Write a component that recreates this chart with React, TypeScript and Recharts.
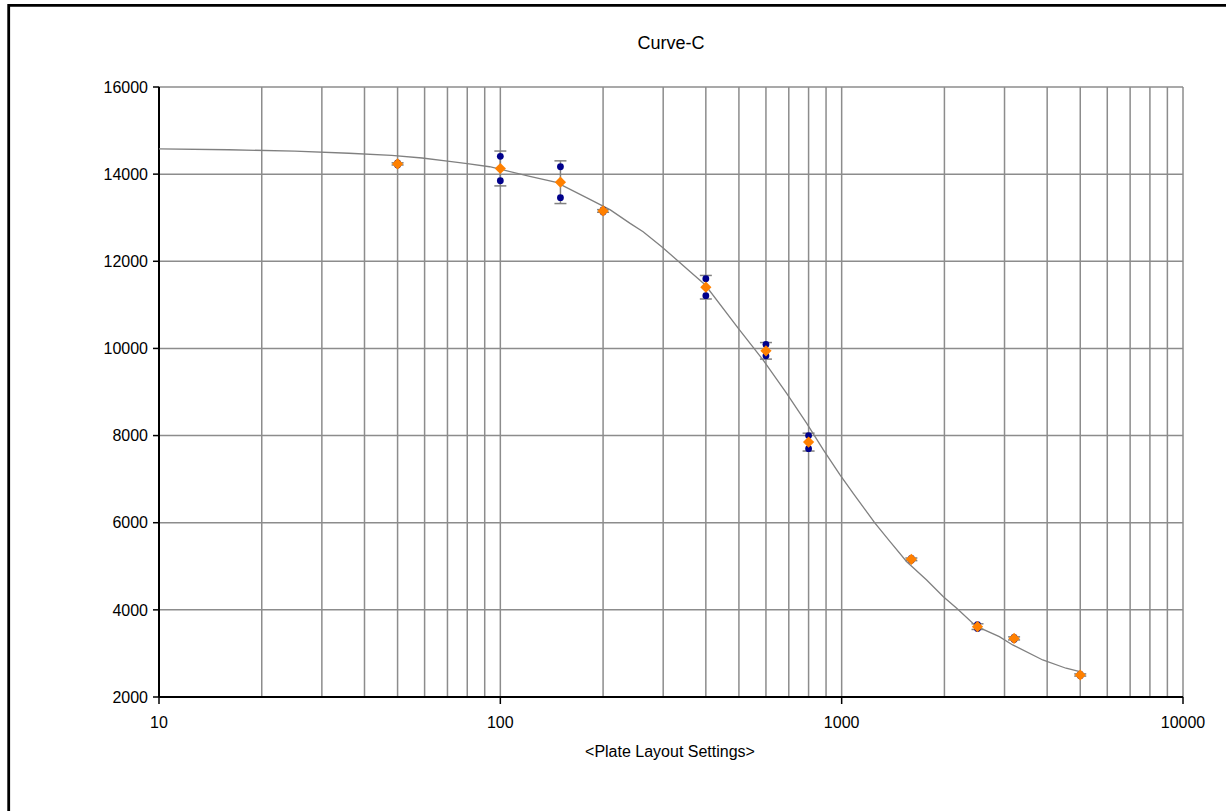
import { ScatterChart, Scatter, XAxis, YAxis, CartesianGrid, ReferenceLine, ErrorBar } from 'recharts'

// standards (concentration) with duplicate readings
const concentrations = [50, 100, 150, 200, 400, 600, 800, 1600, 2500, 3200, 5000]
const replicate1 = [14260, 14410, 14170, 13180, 11600, 10090, 8000, 5180, 3570, 3370, 2520]
const replicate2 = [14210, 13850, 13460, 13130, 11210, 9830, 7700, 5140, 3660, 3320, 2490]
const means = [14235, 14130, 13815, 13155, 11405, 9945, 7850, 5160, 3615, 3345, 2505]
const stdDevs = [25, 400, 490, 30, 270, 190, 205, 30, 65, 35, 25]

// fitted curve
const curveX = [10, 16, 25, 36, 48, 59, 70, 80, 93, 104, 122, 146, 183, 210, 240, 262, 297, 329, 360, 398, 498, 589, 690, 790, 884, 989, 1081, 1252, 1386, 1551, 1774, 1986, 2173, 2475, 2897, 3170, 3882, 4543, 4990]
const curveY = [14580, 14560, 14530, 14480, 14430, 14370, 14300, 14240, 14170, 14080, 13950, 13810, 13420, 13180, 12870, 12680, 12335, 12030, 11760, 11460, 10460, 9730, 8970, 8280, 7670, 7100, 6675, 5990, 5565, 5105, 4685, 4300, 4036, 3625, 3385, 3195, 2850, 2660, 2580]

const xTicks = [10, 100, 1000, 10000]
const yTicks = [2000, 4000, 6000, 8000, 10000, 12000, 14000, 16000]
const xGridValues = [20, 30, 40, 50, 60, 70, 80, 90, 100, 200, 300, 400, 500, 600, 700, 800, 900, 1000, 2000, 3000, 4000, 5000, 6000, 7000, 8000, 9000, 10000]

const TITLE = 'Curve-C'
const X_LABEL = '<Plate Layout Settings>'

const replicateData = concentrations.flatMap((x, i) => [
  { x, y: replicate1[i] },
  { x, y: replicate2[i] },
])
const meanData = concentrations.map((x, i) => ({ x, y: means[i], sd: stdDevs[i] }))
const curveData = curveX.map((x, i) => ({ x, y: curveY[i] }))

const FONT = '"Liberation Sans", Arial, sans-serif'
const GRID = '#8c8c8c'

function Dot(props: any) {
  const { cx, cy } = props
  if (cx == null || cy == null) return <g />
  return <circle cx={cx} cy={cy} r={3.4} fill="#00008b" />
}

function Diamond(props: any) {
  const { cx, cy } = props
  if (cx == null || cy == null) return <g />
  const h = 5.6
  return <path d={`M${cx},${cy - h}L${cx + h},${cy}L${cx},${cy + h}L${cx - h},${cy}Z`} fill="#ff8000" />
}

export default function App() {
  return (
    <div style={{ position: 'relative', width: 1226, height: 811, fontFamily: FONT }}>
      <style>{'body{margin:0;overflow:hidden;background:#fff}'}</style>
      <ScatterChart width={1226} height={811} margin={{ top: 87, right: 43, bottom: 84, left: 79 }}>
        <CartesianGrid vertical={false} stroke={GRID} strokeWidth={1.5} />
        {xGridValues.map((v) => (
          <ReferenceLine key={v} x={v} stroke={GRID} strokeWidth={1.5} />
        ))}
        <XAxis
          type="number"
          dataKey="x"
          scale="log"
          domain={[10, 10000]}
          ticks={xTicks}
          allowDataOverflow
          height={30}
          tickSize={7}
          tickMargin={13}
          axisLine={{ stroke: '#000', strokeWidth: 2 }}
          tickLine={{ stroke: '#000', strokeWidth: 1.5 }}
          tick={{ fill: '#000', fontSize: 16, fontFamily: FONT }}
        />
        <YAxis
          type="number"
          dataKey="y"
          domain={[2000, 16000]}
          ticks={yTicks}
          allowDataOverflow
          width={80}
          tickSize={6}
          tickMargin={5}
          axisLine={{ stroke: '#000', strokeWidth: 2 }}
          tickLine={{ stroke: '#000', strokeWidth: 1.5 }}
          tick={{ fill: '#000', fontSize: 16, fontFamily: FONT }}
        />
        <Scatter
          data={curveData}
          line={{ stroke: '#808080', strokeWidth: 1.3 }}
          shape={() => <g />}
          isAnimationActive={false}
        />
        <Scatter data={replicateData} shape={Dot} isAnimationActive={false} />
        <Scatter data={meanData} shape={Diamond} isAnimationActive={false}>
          <ErrorBar dataKey="sd" direction="y" width={6} stroke="#808080" strokeWidth={1.5} />
        </Scatter>
      </ScatterChart>
      <svg width={1226} height={811} style={{ position: 'absolute', left: 0, top: 0, pointerEvents: 'none' }}>
        <path d="M1300,5.4H8.7V900" fill="none" stroke="#000" strokeWidth={2.8} />
        <text x={671} y={49} textAnchor="middle" fontSize={18} fontFamily={FONT} fill="#000">
          {TITLE}
        </text>
        <text x={670} y={757} textAnchor="middle" fontSize={16} fontFamily={FONT} fill="#000">
          {X_LABEL}
        </text>
      </svg>
    </div>
  )
}
